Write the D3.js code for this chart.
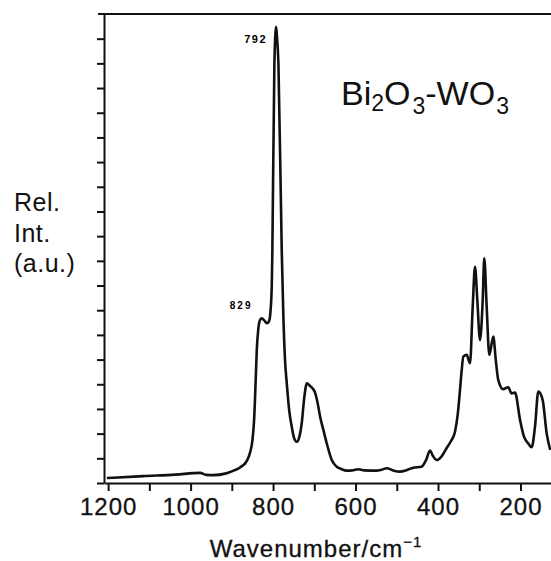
<!DOCTYPE html>
<html>
<head>
<meta charset="utf-8">
<script src="https://cdn.jsdelivr.net/npm/d3@7"></script>
<style>
  body { margin: 0; background: #fff; }
  svg { display: block; }
  .axis path, .axis line { stroke: #111; stroke-width: 2; }
  .axis text { font-family: "Liberation Sans", Arial, sans-serif; font-size: 24px; letter-spacing: 1px; fill: #111; stroke: #111; stroke-width: 0.3px; }
</style>
</head>
<body>
<script>
'use strict';

// Raman spectrum of Bi2O3-WO3 glass
let wavenumber = [1203, 1115, 1037, 977, 962, 945, 916, 897, 880, 864, 856, 850, 846, 842.4, 839.5, 836,
  833, 827.4, 821.8, 815, 809.7, 806, 803, 801.7, 796.8, 792.7, 790.8, 787, 779, 775, 771, 766.8,
  761, 754.7, 749, 742.5, 735.8, 730.4, 725, 718, 710, 703, 698, 691, 686, 678, 670, 657.7,
  645.6, 635, 621, 608, 593, 579, 548.6, 538, 524, 509, 492, 475, 460, 440, 429, 419.4,
  412, 403, 392.7, 379, 368.5, 358.8, 351.5, 346.7, 342.5, 338.6, 330.4, 322.4, 315.9, 310.3,
  304.7, 298.2, 291.6, 287.8, 282, 275.6, 265.9, 259.9, 253.8, 241.7, 229.6, 221.6, 213.3, 201,
  191.5, 182, 172.8, 164.8, 156.8, 146.2, 136.5, 127.8];
let intensity = [0.20, 0.28, 0.34, 0.41, 0.33, 0.32, 0.38, 0.49, 0.63, 0.89, 1.22, 1.74, 2.55, 4.05, 5.39, 6.2,
  6.54, 6.67, 6.6, 6.47, 6.56, 7.0, 8.1, 9.44, 16.98, 18.48, 18.15, 16.98, 9.44, 6.74, 4.98, 4.05,
  2.96, 2.28, 1.82, 1.67, 1.90, 2.43, 3.36, 4.04, 3.93, 3.81, 3.65, 3.16, 2.69, 2.15, 1.62, 0.93,
  0.66, 0.57, 0.50, 0.51, 0.56, 0.51, 0.50, 0.53, 0.60, 0.51, 0.46, 0.53, 0.62, 0.66, 0.93, 1.31,
  1.09, 0.93, 1.05, 1.42, 1.70, 2.08, 2.88, 3.77, 4.58, 5.12, 5.19, 4.85, 7.14, 8.76,
  7.41, 5.79, 7.41, 9.10, 7.14, 5.19, 5.93, 4.98, 4.17, 3.80, 3.88, 3.63, 3.66, 2.55,
  1.88, 1.62, 1.45, 2.28, 3.70, 3.36, 2.01, 1.34];

let xTicks = [1200, 1100, 1000, 900, 800, 700, 600, 500, 400, 300, 200];
let xLabels = [1200, 1000, 800, 600, 400, 200];
let yTicks = d3.range(0, 19);
let peakLabels = ["792", "829"];
let peakPos = [792.7, 833];
let peakVal = [18.48, 6.54];

let width = 551;
let height = 561;
let font = '"Liberation Sans", Arial, sans-serif';

let svg = d3.select('body')
  .append('svg')
  .attr('width', width)
  .attr('height', height);

let xScale = d3.scaleLinear()
  .domain([1210, 126])
  .range([104, 551]);

let yScale = d3.scaleLinear()
  .domain([0, 19])
  .range([483, 14]);

// bottom axis
svg.append('g')
  .attr('class', 'axis')
  .attr('transform', 'translate(0,' + yScale(0) + ')')
  .call(d3.axisBottom(xScale)
    .tickValues(xTicks)
    .tickSize(8)
    .tickSizeOuter(0)
    .tickPadding(7)
    .tickFormat(d => xLabels.includes(d) ? d : ''));

// left axis, ticks only
svg.append('g')
  .attr('class', 'axis')
  .attr('transform', 'translate(' + xScale(1210) + ',0)')
  .call(d3.axisLeft(yScale)
    .tickValues(yTicks)
    .tickSize(7)
    .tickSizeOuter(0)
    .tickFormat(''));

// top frame line
svg.append('line')
  .attr('x1', 98).attr('x2', width)
  .attr('y1', yScale(19)).attr('y2', yScale(19))
  .attr('stroke', '#111')
  .attr('stroke-width', 2);

let line = d3.line()
  .x((d, i) => xScale(wavenumber[i]))
  .y(d => yScale(d))
  .curve(d3.curveMonotoneX);

svg.append('path')
  .datum(intensity)
  .attr('d', line)
  .attr('fill', 'none')
  .attr('stroke', '#111')
  .attr('stroke-width', 2.6)
  .attr('stroke-linejoin', 'round');

// peak labels
svg.append('text')
  .attr('x', xScale(peakPos[0]) - 9)
  .attr('y', yScale(peakVal[0]) + 16)
  .attr('text-anchor', 'end')
  .style('font-family', font)
  .style('font-size', '11px')
  .style('font-weight', 'bold')
  .style('letter-spacing', '1.5px')
  .text(peakLabels[0]);

svg.append('text')
  .attr('x', xScale(peakPos[1]) - 7)
  .attr('y', yScale(peakVal[1]) - 13)
  .attr('text-anchor', 'end')
  .style('font-family', font)
  .style('font-size', '10px')
  .style('font-weight', 'bold')
  .style('letter-spacing', '2px')
  .text(peakLabels[1]);

// title with subscripts
let title = svg.append('text')
  .attr('x', 341)
  .attr('y', 105)
  .style('font-family', font)
  .style('font-size', '34px')
  .style('fill', '#111');
title.append('tspan').text('Bi');
title.append('tspan').attr('dy', 6).style('font-size', '23px').text('2');
title.append('tspan').attr('dy', -6).text('O');
title.append('tspan').attr('dy', 9).attr('dx', 2).style('font-size', '23px').text('3');
title.append('tspan').attr('dy', -9).text('-WO');
title.append('tspan').attr('dy', 9).attr('dx', 1).style('font-size', '23px').text('3');

// y label
let yLabel = ['Rel.', 'Int.', '(a.u.)'];
svg.selectAll('.ylab')
  .data(yLabel)
  .enter()
  .append('text')
  .attr('x', 14)
  .attr('y', (d, i) => 211 + i * 30.5)
  .style('font-family', font)
  .style('font-size', '25px')
  .style('letter-spacing', '0.5px')
  .style('fill', '#111')
  .text(d => d);

// x label
let xLabel = svg.append('text')
  .attr('x', 316)
  .attr('y', 557)
  .attr('text-anchor', 'middle')
  .style('font-family', font)
  .style('font-size', '24px')
  .style('letter-spacing', '1px')
  .style('fill', '#111')
  .style('stroke', '#111')
  .style('stroke-width', '0.3px');
xLabel.append('tspan').text('Wavenumber/cm');
xLabel.append('tspan').attr('dy', -10).style('font-size', '15px').text('\u22121');
</script>
</body>
</html>
